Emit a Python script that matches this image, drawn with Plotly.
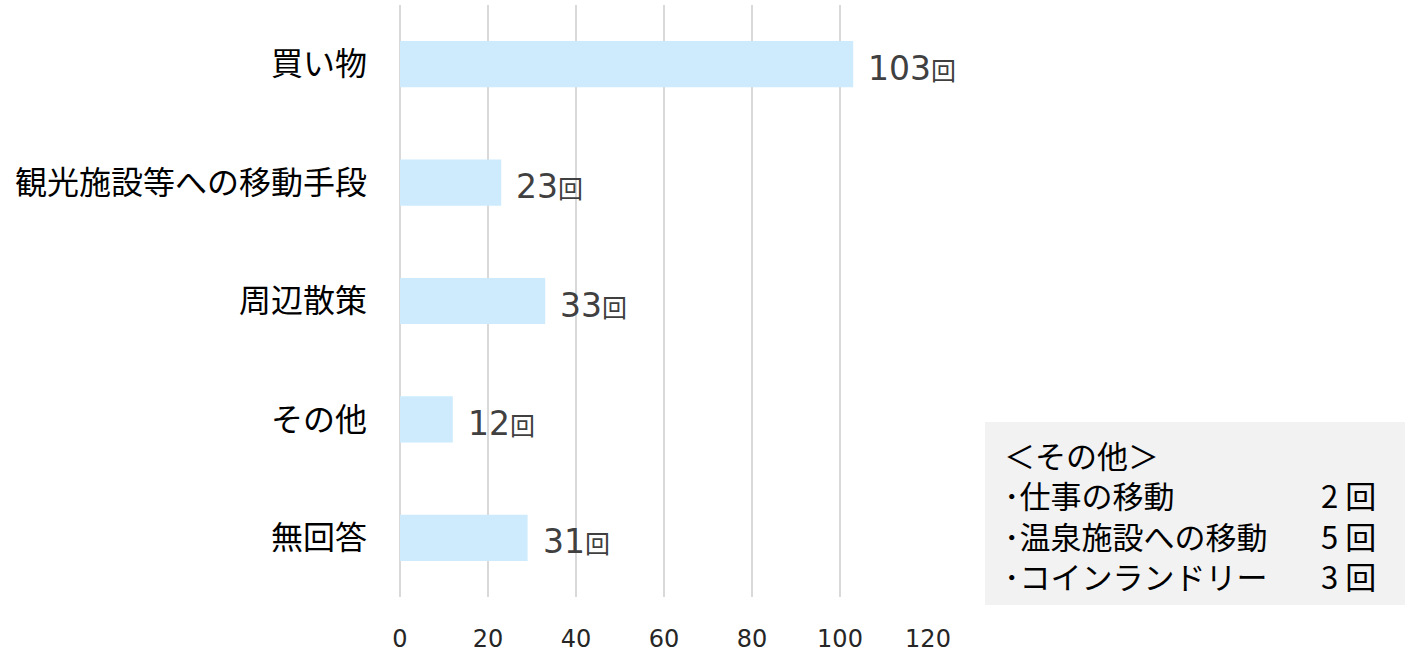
import plotly.graph_objects as go

# ----------------------------------------------------------
# data
# ----------------------------------------------------------
categories = ["買い物", "観光施設等への移動手段", "周辺散策", "その他", "無回答"]
bar_values = [103, 23, 33, 12, 29]          # bar lengths as drawn
label_counts = [103, 23, 33, 12, 31]        # numbers printed next to the bars
x_ticks = [0, 20, 40, 60, 80, 100, 120]

other_title = "＜その他＞"
other_items = ["･仕事の移動", "･温泉施設への移動", "･コインランドリー"]
other_counts = [2, 5, 3]

FONT = "Noto Sans CJK JP"
NUM_FONT = "DejaVu Sans, Noto Sans CJK JP"

# plot area in pixels (used to convert box positions to paper coords)
PX_L, PX_R, PX_T, PX_B = 400, 928, 5, 597


def px_x(px):
    return (px - PX_L) / (PX_R - PX_L)


def px_y(py):
    return (PX_B - py) / (PX_B - PX_T)


fig = go.Figure()

fig.add_trace(go.Bar(
    x=bar_values,
    y=categories,
    orientation="h",
    marker=dict(color="#CDEBFC", line=dict(width=0)),
    hoverinfo="skip",
))

# value labels next to each bar
for cat, val, cnt in zip(categories, bar_values, label_counts):
    fig.add_annotation(
        x=val, y=cat, xref="x", yref="y",
        text=f"{cnt}<span style='font-size:25px;font-family:Noto Sans CJK JP'>回</span>",
        showarrow=False, xanchor="left", yanchor="middle",
        xshift=13, yshift=-4,
        font=dict(family=NUM_FONT, size=33, color="#404040"),
    )

# grey "other" box
fig.add_shape(
    type="rect", xref="paper", yref="paper",
    x0=px_x(985), x1=px_x(1405), y0=px_y(605), y1=px_y(422),
    fillcolor="#F2F2F2", line=dict(width=0), layer="below",
)

box_font = dict(family=FONT, size=31, color="#000000")
fig.add_annotation(
    x=px_x(1002), y=px_y(515), xref="paper", yref="paper",
    text="<br>".join([other_title] + other_items),
    showarrow=False, xanchor="left", yanchor="middle", align="left",
    font=box_font,
)
fig.add_annotation(
    x=px_x(1378), y=px_y(515), xref="paper", yref="paper",
    text="<br>".join([" "] + [f"{c} 回" for c in other_counts]),
    showarrow=False, xanchor="right", yanchor="middle", align="right",
    font=box_font,
)

fig.update_layout(
    width=1410,
    height=652,
    margin=dict(l=PX_L, r=1410 - PX_R, t=PX_T, b=652 - PX_B),
    paper_bgcolor="white",
    plot_bgcolor="white",
    showlegend=False,
    bargap=0.61,
    font=dict(family=FONT),
    xaxis=dict(
        range=[0, 120],
        tickvals=x_ticks,
        showgrid=True,
        gridcolor="#D9D9D9",
        gridwidth=2,
        zeroline=True,
        zerolinecolor="#D9D9D9",
        zerolinewidth=2,
        showline=False,
        ticks="",
        ticklabelstandoff=25,
        tickfont=dict(family=NUM_FONT, size=24, color="#262626"),
        automargin=False,
        fixedrange=True,
    ),
    yaxis=dict(
        autorange="reversed",
        showgrid=False,
        showline=False,
        ticks="",
        ticklabelstandoff=32,
        tickfont=dict(family=FONT, size=32, color="#000000"),
        automargin=False,
        fixedrange=True,
    ),
)

# page body has an 8px default margin; drop it so the figure sits at 0,0
fig.write_html(
    "out.html",
    config={"displayModeBar": False},
    post_script="document.body.style.margin='0';",
)
